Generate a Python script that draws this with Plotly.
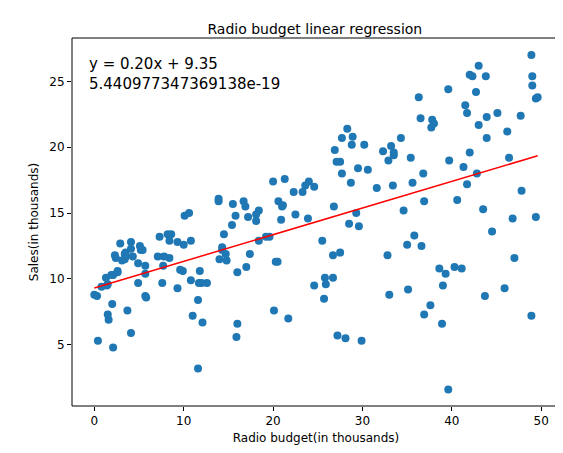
import numpy as np
import plotly.graph_objects as go

radio = [37.8,39.3,45.9,41.3,10.8,48.9,32.8,19.6,2.1,2.6,5.8,24,35.1,7.6,32.9,47.7,36.6,39.6,20.5,23.9,
         27.7,5.1,15.9,16.9,12.6,3.5,29.3,16.7,27.1,16,28.3,17.4,1.5,20,1.4,4.1,43.8,49.4,26.7,37.7,
         22.3,33.4,27.7,8.4,25.7,22.5,9.9,41.5,15.8,11.7,3.1,9.6,41.7,46.2,28.8,49.4,28.1,19.2,49.6,29.5,
         2,42.7,15.5,29.6,42.8,9.3,24.6,14.5,27.5,43.9,30.6,14.3,33,5.7,24.6,43.7,1.6,28.5,29.9,7.7,
         26.7,4.1,20.3,44.5,43,18.4,27.5,40.6,25.5,47.8,4.9,1.5,33.5,36.5,14,31.6,3.5,21,42.3,41.7,
         4.3,36.3,10.1,17.2,34.3,46.4,11,0.3,0.4,26.9,8.2,38,15.4,20.6,46.8,35,14.3,0.8,36.9,16,
         26.8,21.7,2.4,34.6,32.3,11.8,38.9,0,49,12,39.6,2.9,27.2,33.5,38.6,47,39,28.9,25.9,43.9,
         17,35.4,33.2,5.7,14.8,1.9,7.3,49,40.3,25.8,13.9,8.4,23.3,39.7,21.1,11.6,43.5,1.3,36.9,18.4,
         18.1,35.8,18.1,36.8,14.7,3.4,37.6,5.2,23.6,10.6,11.6,20.9,20.1,7.1,3.4,48.9,30.2,7.8,2.3,10,
         2.6,5.4,5.7,43,21.3,45.1,2.1,28.7,13.9,12.1,41.1,10.8,4.1,42,35.6,3.7,4.9,9.3,42,8.6]
sales = [22.1,10.4,9.3,18.5,12.9,7.2,11.8,13.2,4.8,10.6,8.6,17.4,9.2,9.7,19,22.4,12.5,24.4,11.3,14.6,
         18,12.5,5.6,15.5,9.7,12,15,15.9,18.9,10.5,21.4,11.9,9.6,17.4,9.5,12.8,25.4,14.7,10.1,21.5,
         16.6,17.1,20.7,12.9,8.5,14.9,10.6,23.2,14.8,9.7,11.4,10.7,22.6,21.2,20.2,23.7,5.5,13.2,23.8,18.4,
         8.1,24.2,15.7,14,18,9.3,9.5,13.4,18.9,22.3,18.3,12.4,8.8,11,17,8.7,6.9,14.2,5.3,11,
         11.8,12.3,11.3,13.6,21.7,15.2,12,16,12.9,16.7,11.2,7.3,19.4,22.2,11.5,16.9,11.7,15.5,25.4,17.2,
         11.7,23.8,14.8,14.7,20.7,19.2,7.2,8.7,5.3,19.8,13.4,21.8,14.1,15.9,14.6,12.6,12.2,9.4,15.9,6.6,
         15.5,7,11.6,15.2,19.7,10.6,6.6,8.8,24.7,9.7,1.6,12.7,5.7,19.6,10.8,11.6,9.5,20.8,9.6,20.7,
         10.9,19.2,20.1,10.4,11.4,10.3,13.2,25.4,10.9,10.1,16.1,11.6,16.6,19,15.6,3.2,15.3,10.1,7.3,12.9,
         14.4,13.3,14.9,18,11.9,11.9,8,12.2,17.1,15,8.4,14.5,7.6,11.7,11.5,27,20.2,11.7,11.8,12.6,
         10.5,12.2,8.7,26.2,17.6,22.6,10.3,17.3,15.9,6.7,10.8,9.9,5.9,19.6,17.3,7.6,9.7,12.8,25.5,13.4]

eq_text = "y = 0.20x + 9.35"
p_text = "5.440977347369138e-19"

x = np.array(radio)
slope, intercept = np.polyfit(x, np.array(sales), 1)
xs = np.sort(x)

fig = go.Figure()
fig.add_trace(go.Scatter(x=radio, y=sales, mode="markers",
                         marker=dict(color="#1f77b4", size=8)))
fig.add_trace(go.Scatter(x=xs, y=slope * xs + intercept, mode="lines",
                         line=dict(color="red", width=1.5)))

fig.add_annotation(x=0.03, y=0.96, xref="paper", yref="paper", xanchor="left", yanchor="top",
                   text=eq_text + "<br>" + p_text, showarrow=False, align="left",
                   font=dict(size=15, color="black"))

# full frame like matplotlib spines
fig.add_shape(type="rect", xref="paper", yref="paper", x0=0, y0=0, x1=1, y1=1,
              line=dict(color="black", width=1))

axis = dict(showgrid=False, zeroline=False, showline=False, automargin=False,
            ticks="outside", tickcolor="black", ticklen=4, tickfont=dict(size=12, color="black"))
fig.update_layout(
    width=563, height=453, showlegend=False,
    plot_bgcolor="white", paper_bgcolor="white",
    font=dict(family="DejaVu Sans", color="black"),
    margin=dict(l=64, r=11, t=30, b=55),
    title=dict(text="Radio budget linear regression", x=0.545, y=0.965, xanchor="center",
               font=dict(size=14)),
    xaxis=dict(axis, range=[-2.5, 52.1], tickvals=[0, 10, 20, 30, 40, 50],
               title=dict(text="Radio budget(in thousands)", font=dict(size=12), standoff=6)),
    yaxis=dict(axis, range=[0.35, 28.3], tickvals=[5, 10, 15, 20, 25],
               title=dict(text="Sales(in thousands)", font=dict(size=12), standoff=8)),
)

fig.write_html("out.html")
